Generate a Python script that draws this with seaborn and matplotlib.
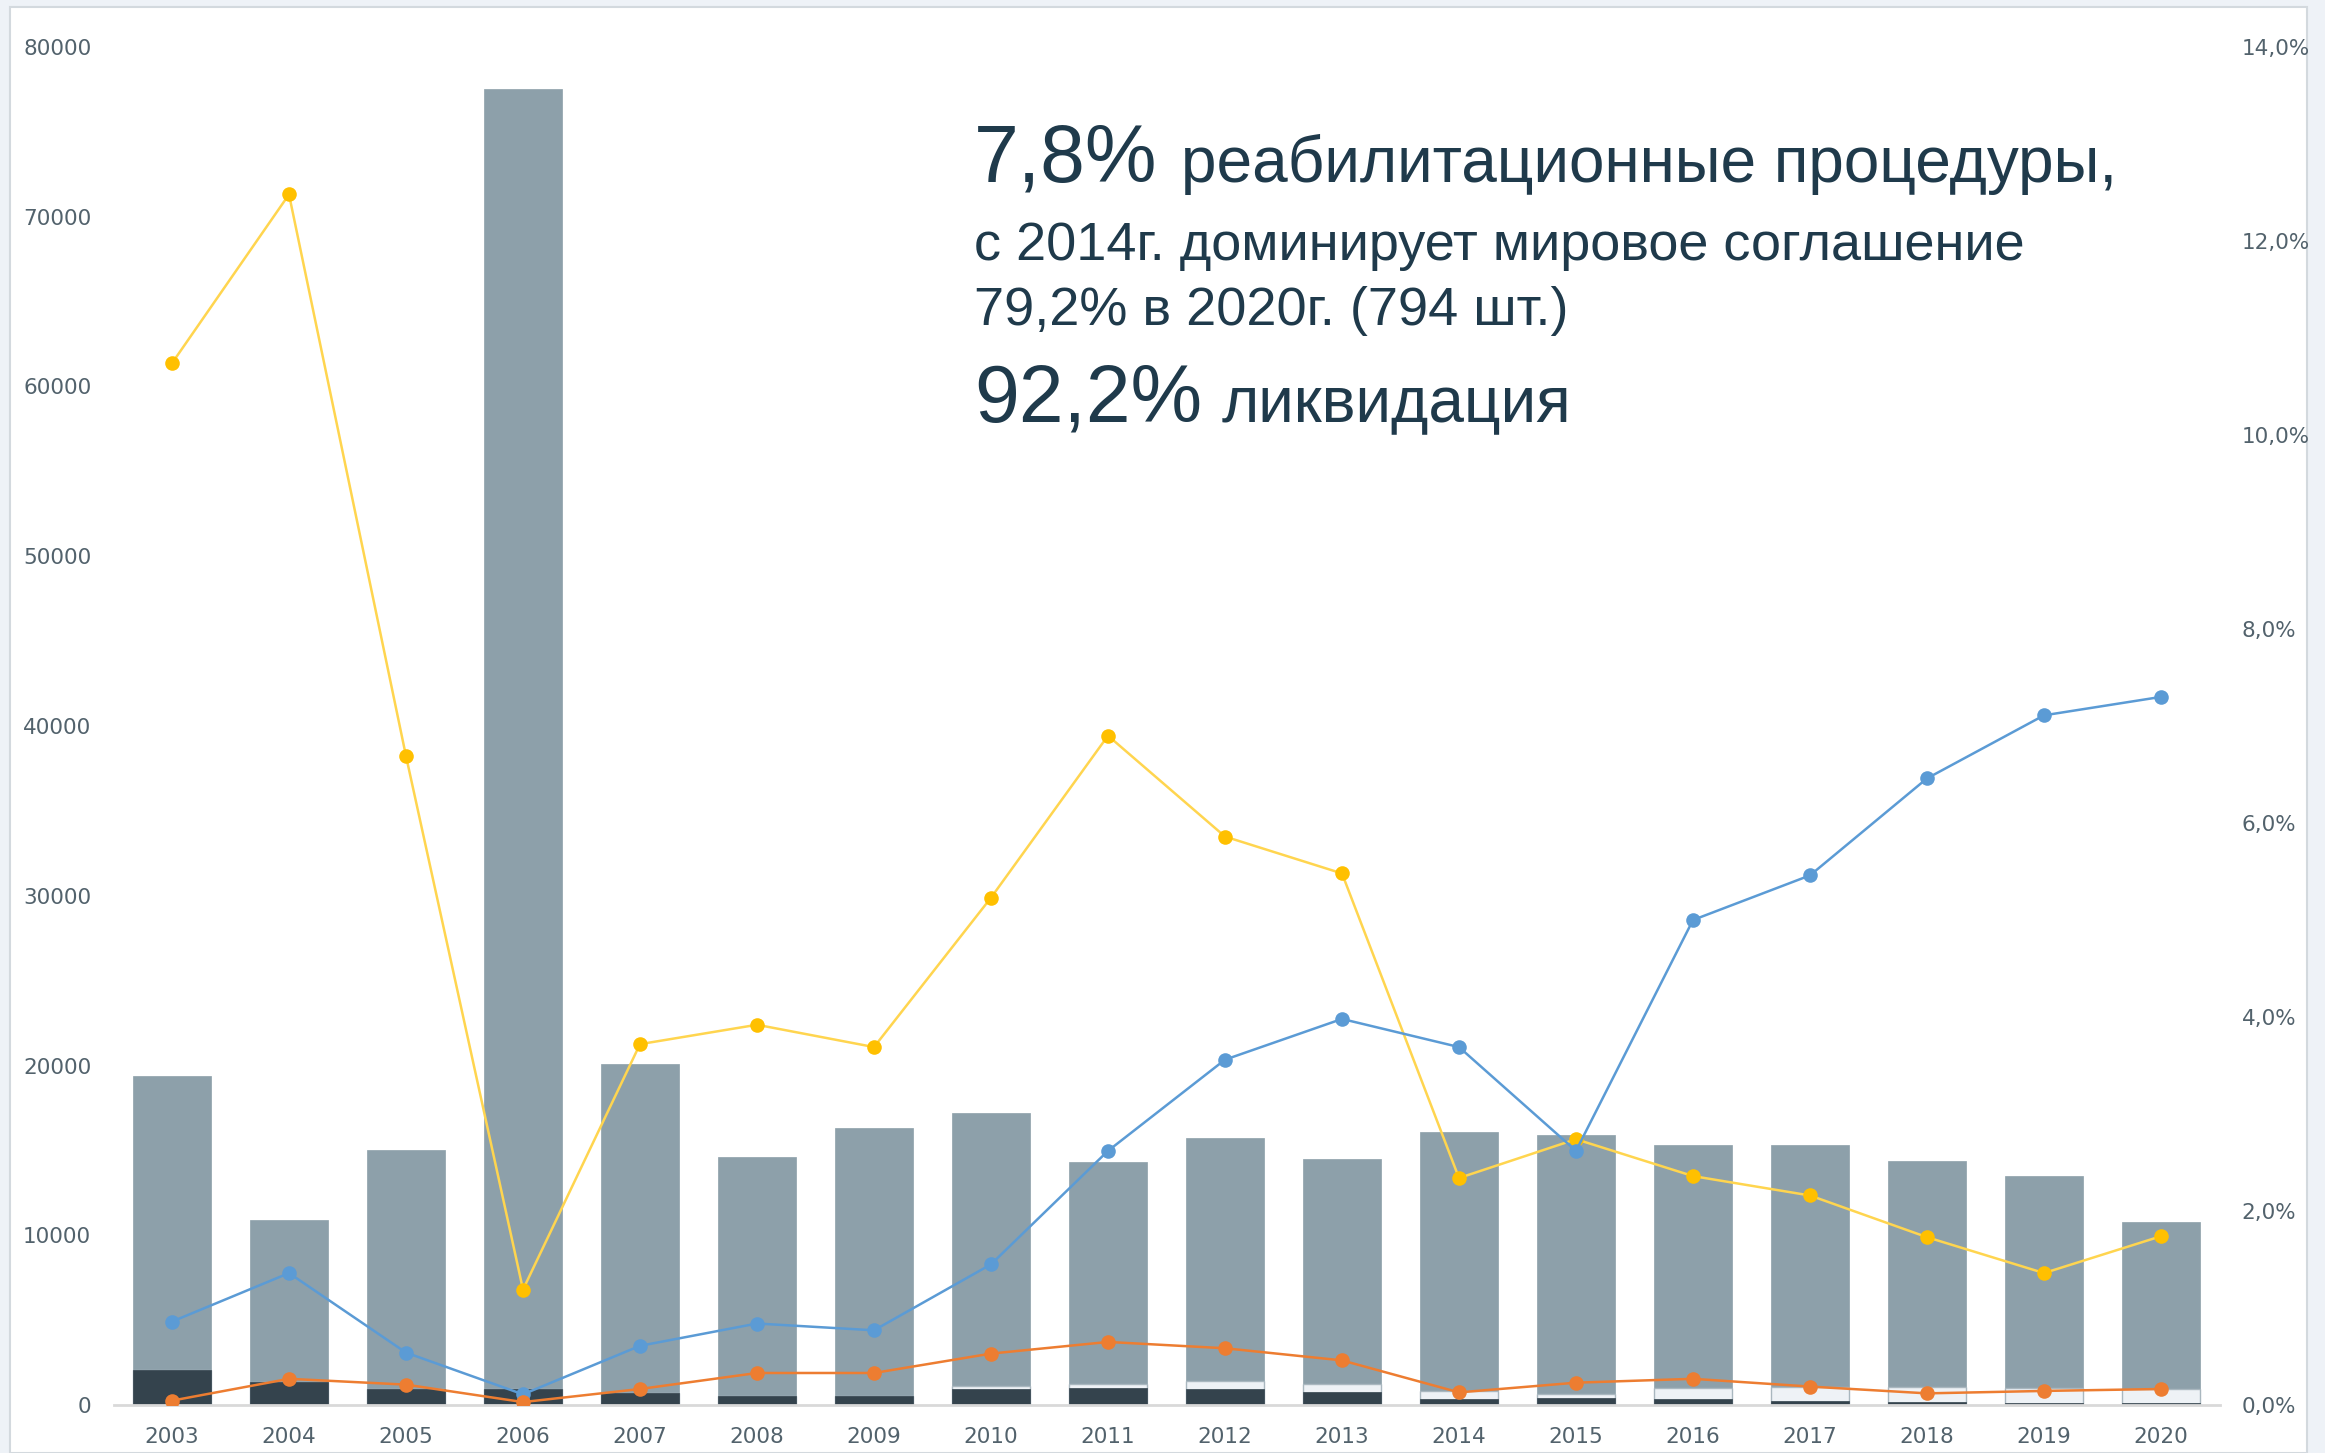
import numpy as np
import matplotlib
matplotlib.use('Agg')
import matplotlib.pyplot as plt
import seaborn as sns
from matplotlib.patches import Rectangle

# --- данные ---
years = [str(y) for y in range(2003, 2021)]

# столбцы, шт. (левая ось)
total_cases = [19400, 10900, 15000, 77500, 20100, 14600, 16300, 17200, 14300,
               15700, 14500, 16100, 15900, 15300, 15300, 14400, 13500, 10800]
rehab_cases = [2050, 1370, 950, 950, 700, 550, 550, 950, 1000,
               950, 750, 350, 410, 350, 260, 200, 120, 120]
settlement_cases = [0, 0, 0, 0, 0, 0, 0, 150, 240,
                    490, 470, 450, 240, 670, 790, 850, 880, 794]

# линии, % (правая ось)
share_yellow = [10.74, 12.48, 6.69, 1.19, 3.72, 3.92, 3.69, 5.23, 6.90,
                5.86, 5.48, 2.34, 2.74, 2.36, 2.16, 1.73, 1.36, 1.74]
share_blue = [0.86, 1.36, 0.54, 0.11, 0.61, 0.84, 0.77, 1.45, 2.62,
              3.56, 3.98, 3.69, 2.62, 5.00, 5.46, 6.46, 7.11, 7.30]
share_orange = [0.045, 0.27, 0.21, 0.03, 0.165, 0.33, 0.33, 0.53, 0.65,
                0.585, 0.46, 0.13, 0.23, 0.27, 0.19, 0.12, 0.145, 0.165]

# --- оформление ---
W, H = 2325, 1453
DPI = 100
TICK_COLOR = '#52626c'
TEXT_COLOR = '#1f3a4b'
TICK_SIZE = 15.5

sns.set_style('white')
plt.rcParams['font.family'] = ['DejaVu Sans']

fig = plt.figure(figsize=(W / DPI, H / DPI), dpi=DPI, facecolor='#eef2f7')
# белая "карточка" под графиком
fig.patches.append(Rectangle((10 / W, 0), (2307 - 10) / W, (H - 7) / H,
                             transform=fig.transFigure, facecolor='white',
                             edgecolor='#d3d9de', linewidth=1.5, zorder=-10))

ax = fig.add_axes([113.5 / W, 1 - 1405 / H, 2106 / W, 1358 / H])
ax.set_facecolor('none')

# накладываем столбцы от самого высокого к самому низкому
lower = np.array(rehab_cases) + np.array(settlement_cases)
sns.barplot(x=years, y=total_cases, color='#8da0aa', saturation=1, width=0.66,
            edgecolor='#8da0aa', linewidth=0.5, ax=ax)
sns.barplot(x=years, y=lower, color='#eef2f6', saturation=1, width=0.66,
            edgecolor='#a9b7bf', linewidth=1.0, ax=ax)
sns.barplot(x=years, y=rehab_cases, color='#34434d', saturation=1, width=0.66,
            edgecolor='#34434d', linewidth=0.5, ax=ax)

ax.set_xlim(-0.5, len(years) - 0.5)
ax.set_ylim(0, 80000)
ax.set_yticks(range(0, 80001, 10000))
ax.set_yticklabels([str(v) for v in range(0, 80001, 10000)])
ax.set_xlabel('')
ax.set_ylabel('')
ax.tick_params(axis='both', length=0, colors=TICK_COLOR, labelsize=TICK_SIZE)
ax.tick_params(axis='y', pad=16)
ax.tick_params(axis='x', pad=16)
for s in ['top', 'right', 'left']:
    ax.spines[s].set_visible(False)
ax.spines['bottom'].set_color('#d9d9d9')
ax.spines['bottom'].set_linewidth(2)

# правая ось с долями
ax2 = ax.twinx()
xpos = np.arange(len(years))
for vals, line_c, mark_c in [(share_yellow, '#ffd54f', '#ffc000'),
                             (share_blue, '#5b9bd5', '#5b9bd5'),
                             (share_orange, '#ed7d31', '#ed7d31')]:
    sns.lineplot(x=xpos, y=vals, color=line_c, linewidth=1.8, ax=ax2)
    ax2.plot(xpos, vals, linestyle='none', marker='o', markersize=10.5,
             markerfacecolor=mark_c, markeredgewidth=0)
ax2.set_ylim(0, 14)
ax2.set_yticks(range(0, 15, 2))
ax2.set_yticklabels([f'{v:.1f}%'.replace('.', ',') for v in range(0, 15, 2)])
ax2.set_xlim(-0.5, len(years) - 0.5)
ax2.tick_params(axis='y', length=0, colors=TICK_COLOR, labelsize=TICK_SIZE, pad=16)
for s in ax2.spines.values():
    s.set_visible(False)

# подпись
txt = dict(color=TEXT_COLOR, family=['Liberation Sans', 'DejaVu Sans'],
           va='baseline', ha='left', transform=fig.transFigure)
fig.text(974 / W, 1 - 182 / H, '7,8%', fontsize=58, **txt)
fig.text(1181 / W, 1 - 182 / H, 'реабилитационные процедуры,', fontsize=46, **txt)
fig.text(974 / W, 1 - 260 / H, 'с 2014г. доминирует мировое соглашение', fontsize=39, **txt)
fig.text(974 / W, 1 - 325 / H, '79,2% в 2020г. (794 шт.)', fontsize=39, **txt)
fig.text(974 / W, 1 - 422 / H, '92,2%', fontsize=58, **txt)
fig.text(1222 / W, 1 - 422 / H, 'ликвидация', fontsize=46, **txt)

fig.savefig('out.png', dpi=DPI, facecolor=fig.get_facecolor())
